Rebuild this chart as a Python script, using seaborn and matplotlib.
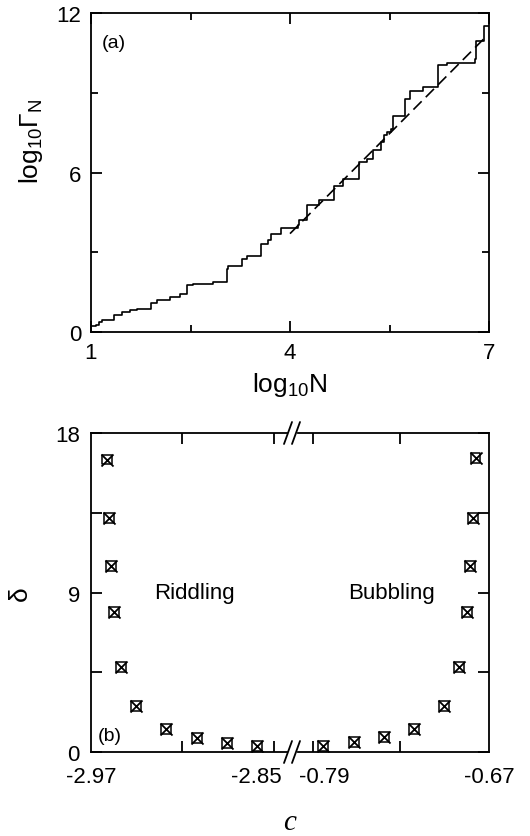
import matplotlib
matplotlib.use("Agg")
import matplotlib.pyplot as plt
import seaborn as sns
from matplotlib.lines import Line2D
from matplotlib.ticker import FixedLocator

# panel (a): staircase, step start (log10 N) and level (log10 Gamma_N)
log_n = [1.00, 1.08, 1.12, 1.16, 1.34, 1.46, 1.59, 1.69, 1.91, 1.99, 2.19, 2.34,
         2.44, 2.54, 2.84, 3.05, 3.07, 3.27, 3.35, 3.56, 3.67, 3.72, 3.87, 4.12,
         4.14, 4.25, 4.44, 4.66, 4.80, 5.04, 5.16, 5.25, 5.37, 5.41, 5.46, 5.53,
         5.56, 5.73, 5.81, 6.01, 6.23, 6.36, 6.79, 6.81, 6.92, 7.00]
log_gamma = [0.21, 0.28, 0.36, 0.44, 0.63, 0.75, 0.82, 0.88, 1.10, 1.19, 1.32, 1.44,
             1.76, 1.82, 1.88, 2.38, 2.50, 2.76, 2.85, 3.32, 3.45, 3.70, 3.91, 4.01,
             4.20, 4.76, 4.98, 5.49, 5.74, 6.39, 6.52, 6.83, 7.14, 7.40, 7.52, 7.65,
             8.11, 8.78, 9.05, 9.22, 10.03, 10.13, 10.28, 10.93, 11.51, 11.51]
# dashed fit
fit_n = [4.0, 6.95]
fit_gamma = [3.7, 11.1]

# panel (b): delta vs c
c_riddling = [-2.9586, -2.9569, -2.9555, -2.9533, -2.948, -2.9373,
              -2.9155, -2.8931, -2.8713, -2.8495]
delta_riddling = [16.5, 13.2, 10.5, 7.9, 4.8, 2.6, 1.3, 0.8, 0.5, 0.32]
c_bubbling = [-0.7905, -0.7682, -0.7462, -0.7243, -0.7025, -0.6916,
              -0.6858, -0.6838, -0.6815, -0.6798]
delta_bubbling = [0.32, 0.55, 0.83, 1.3, 2.6, 4.8, 7.9, 10.5, 13.2, 16.6]

sns.set_style("ticks")
plt.rcParams["font.family"] = ["Liberation Sans", "DejaVu Sans"]
plt.rcParams["mathtext.fontset"] = "custom"
plt.rcParams["mathtext.rm"] = "Liberation Sans"
plt.rcParams["mathtext.it"] = "Liberation Sans:italic"
for key in ["text.color", "axes.labelcolor", "xtick.color", "ytick.color",
            "axes.edgecolor"]:
    plt.rcParams[key] = "black"

W, H = 530, 837
fig = plt.figure(figsize=(W / 100, H / 100), dpi=100)


def box(x0, y0, x1, y1):
    # pixel box (top-left origin) -> figure fraction rect
    return [x0 / W, 1 - y1 / H, (x1 - x0) / W, (y1 - y0) / H]


def style_axis(ax):
    for s in ax.spines.values():
        s.set_linewidth(1.3)
        s.set_color("black")
    ax.tick_params(which="both", direction="in", colors="black", width=1.3,
                   labelsize=16)


# ---- panel (a)
ax_a = fig.add_axes(box(91, 14, 489, 333))
sns.lineplot(x=log_n, y=log_gamma, ax=ax_a, color="black", lw=1.2,
             drawstyle="steps-post", estimator=None, sort=False)
sns.lineplot(x=fit_n, y=fit_gamma, ax=ax_a, color="black", lw=1.2,
             linestyle=(0, (7, 3.5)), estimator=None)
ax_a.set_xlim(1, 7)
ax_a.set_ylim(0, 12)
ax_a.set_xticks([1, 4, 7])
ax_a.set_yticks([0, 6, 12])
ax_a.xaxis.set_minor_locator(FixedLocator([2.5, 5.5]))
ax_a.yaxis.set_minor_locator(FixedLocator([3, 9]))
style_axis(ax_a)
ax_a.tick_params(which="both", top=True, right=True)
ax_a.tick_params(which="major", length=8, pad=7)
ax_a.tick_params(which="minor", length=5)
ax_a.set_xlabel(r"log$_{\mathrm{10}}$N", fontsize=19)
ax_a.set_ylabel(r"log$_{\mathrm{10}}\Gamma_{\mathrm{N}}$", fontsize=19)
ax_a.xaxis.set_label_coords(0.5, -0.12)
ax_a.yaxis.set_label_coords(-0.115, 0.6)
ax_a.text(0.028, 0.935, "(a)", transform=ax_a.transAxes, fontsize=14,
          ha="left", va="top")

# ---- panel (b): broken c axis
ax_l = fig.add_axes(box(91, 434, 287, 753))
ax_r = fig.add_axes(box(298, 434, 489, 753))

for ax, cx, dy in [(ax_l, c_riddling, delta_riddling),
                   (ax_r, c_bubbling, delta_bubbling)]:
    sns.scatterplot(x=cx, y=dy, ax=ax, marker="s", s=50, fc="none",
                    ec="black", linewidth=1.1, zorder=3)
    sns.scatterplot(x=cx, y=dy, ax=ax, marker="x", s=75, color="black",
                    linewidth=1.3, zorder=3)
    ax.set_ylim(0, 18)
    ax.set_yticks([0, 9, 18])
    ax.yaxis.set_minor_locator(FixedLocator([4.5, 13.5]))
    style_axis(ax)
    ax.tick_params(which="both", top=True, length=8)
    ax.tick_params(axis="x", which="major", length=0, pad=10)

ax_l.set_xlim(-2.97, -2.8275)
ax_l.set_xticks([-2.97, -2.85])
ax_l.set_xticklabels(["-2.97", "-2.85"])
ax_l.xaxis.set_minor_locator(FixedLocator([-2.9038, -2.8369]))
ax_l.spines["right"].set_visible(False)
ax_l.tick_params(axis="y", which="both", right=False, pad=8)
ax_l.set_ylabel("δ", fontsize=19)
ax_l.yaxis.set_label_coords(-0.3, 0.5)
ax_l.text(0.036, 0.025, "(b)", transform=ax_l.transAxes, fontsize=14,
          ha="left", va="bottom")
ax_l.text(0.53, 0.5, "Riddling", transform=ax_l.transAxes, fontsize=16,
          ha="center", va="center")

ax_r.set_xlim(-0.8089, -0.67)
ax_r.set_xticks([-0.79, -0.67])
ax_r.set_xticklabels(["-0.79", "-0.67"])
ax_r.xaxis.set_minor_locator(FixedLocator([-0.7982, -0.7347]))
ax_r.spines["left"].set_visible(False)
ax_r.tick_params(axis="y", which="both", left=False, right=True,
                 labelleft=False)
ax_r.text(0.49, 0.5, "Bubbling", transform=ax_r.transAxes, fontsize=16,
          ha="center", va="center")

# break marks
for yb in (434, 753):
    for xc in (288, 296):
        fig.add_artist(Line2D([(xc - 4) / W, (xc + 4) / W],
                              [1 - (yb + 11) / H, 1 - (yb - 11) / H],
                              color="black", lw=1.3, transform=fig.transFigure))

fig.text(290 / W, 1 - 823 / H, "c", fontsize=21, style="italic",
         family="Liberation Serif", ha="center", va="center")

fig.savefig("out.png", dpi=100)
